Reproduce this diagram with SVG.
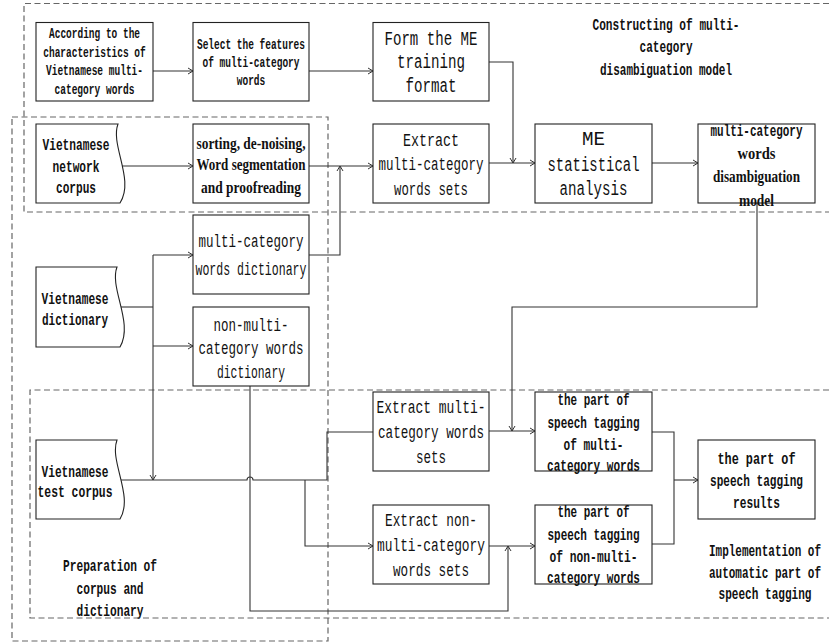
<svg xmlns="http://www.w3.org/2000/svg" width="829" height="643" viewBox="0 0 829 643">
<style>
.bg{fill:#fff}
.box{fill:#fff;stroke:#222;stroke-width:1.1}
.region{fill:none;stroke:#666;stroke-width:1.2;stroke-dasharray:6 3.5}
.con{fill:none;stroke:#333;stroke-width:1.1}
.arr{marker-end:url(#ah)}
text{text-anchor:middle;fill:#111}
.t1{font-family:"Liberation Mono",monospace;font-weight:bold;font-size:14px}
.t2{font-family:"Liberation Mono",monospace;font-weight:bold;font-size:16px}
.t3{font-family:"Liberation Mono",monospace;font-size:19px}
.t4{font-family:"Liberation Mono",monospace;font-size:20px}
.ts{font-family:"Liberation Serif",serif;font-weight:bold;font-size:16px}
</style>
<defs>
<marker id="ah" markerUnits="userSpaceOnUse" markerWidth="8" markerHeight="8" refX="6" refY="4" orient="auto">
<path d="M1,1 L6,4 L1,7" fill="none" stroke="#333" stroke-width="1"/>
</marker>
</defs>
<rect class="bg" x="0" y="0" width="829" height="643"/>

<g id="region-constructing">
<path class="region" d="M829,3.5 H24 V212 H829"/>
<text class="t2" x="666" y="30" textLength="147" lengthAdjust="spacingAndGlyphs">Constructing of multi-</text>
<text class="t2" x="666" y="52" textLength="53" lengthAdjust="spacingAndGlyphs">category</text>
<text class="t2" x="666" y="75" textLength="132" lengthAdjust="spacingAndGlyphs">disambiguation model</text>
</g>
<g id="region-preparation">
<rect class="region" x="12" y="117" width="316" height="524"/>
<text class="t2" x="110" y="571" textLength="94" lengthAdjust="spacingAndGlyphs">Preparation of</text>
<text class="t2" x="110" y="594" textLength="67" lengthAdjust="spacingAndGlyphs">corpus and</text>
<text class="t2" x="110" y="616" textLength="67" lengthAdjust="spacingAndGlyphs">dictionary</text>
</g>
<g id="region-implementation">
<path class="region" d="M829,390 H30 V618 H829"/>
<text class="t2" x="765" y="556" textLength="112" lengthAdjust="spacingAndGlyphs">Implementation of</text>
<text class="t2" x="765" y="578" textLength="112" lengthAdjust="spacingAndGlyphs">automatic part of</text>
<text class="t2" x="765" y="599" textLength="93" lengthAdjust="spacingAndGlyphs">speech tagging</text>
</g>

<g id="connectors">
<path class="con arr" d="M153,71 H193"/>
<path class="con arr" d="M309,71 H373"/>
<path class="con arr" d="M489,62 H513 V163"/>
<path class="con arr" d="M489,163 H535"/>
<path class="con arr" d="M122,166 H193"/>
<path class="con arr" d="M309,166 H373"/>
<path class="con arr" d="M309,255 H340 V166"/>
<path class="con arr" d="M652,163 H698"/>
<path class="con arr" d="M757,203 V307 H512 V431"/>
<path class="con arr" d="M489,431 H535"/>
<path class="con" d="M121,307 H153"/>
<path class="con arr" d="M153,255 V480"/>
<path class="con arr" d="M153,255 H193"/>
<path class="con arr" d="M153,346 H193"/>
<path class="con" d="M121,480 H247 A3,3 0 0 1 253,480 H327 V432 H373"/>
<path class="con arr" d="M305,480 V546 H373"/>
<path class="con arr" d="M250,386 V611 H508 V546"/>
<path class="con arr" d="M489,546 H535"/>
<path class="con" d="M652,432 H674 V544 H652"/>
<path class="con arr" d="M674,480 H698"/>
</g>

<g id="n-characteristics">
<rect class="box" x="36" y="22.5" width="117" height="78.5"/>
<text class="t1" x="94.5" y="38" textLength="91" lengthAdjust="spacingAndGlyphs">According to the</text>
<text class="t1" x="94.5" y="56.5" textLength="102.5" lengthAdjust="spacingAndGlyphs">characteristics of</text>
<text class="t1" x="94.5" y="75" textLength="97" lengthAdjust="spacingAndGlyphs">Vietnamese multi-</text>
<text class="t1" x="94.5" y="94" textLength="80" lengthAdjust="spacingAndGlyphs">category words</text>
</g>
<g id="n-select-features">
<rect class="box" x="193" y="22.5" width="116" height="78.5"/>
<text class="t1" x="251" y="48.5" textLength="108" lengthAdjust="spacingAndGlyphs">Select the features</text>
<text class="t1" x="251" y="67" textLength="97" lengthAdjust="spacingAndGlyphs">of multi-category</text>
<text class="t1" x="251" y="85" textLength="28.5" lengthAdjust="spacingAndGlyphs">words</text>
</g>
<g id="n-me-format">
<rect class="box" x="373" y="22.5" width="116" height="78.5"/>
<text class="t4" x="431" y="45" textLength="93" lengthAdjust="spacingAndGlyphs">Form the ME</text>
<text class="t4" x="431" y="68" textLength="68" lengthAdjust="spacingAndGlyphs">training</text>
<text class="t4" x="431" y="92" textLength="51" lengthAdjust="spacingAndGlyphs">format</text>
</g>
<g id="n-network-corpus">
<path class="box" d="M36,124 H118 C110,145 135,180 120,203 H36 Z"/>
<text class="t2" x="76" y="150" textLength="67" lengthAdjust="spacingAndGlyphs">Vietnamese</text>
<text class="t2" x="76" y="172" textLength="47" lengthAdjust="spacingAndGlyphs">network</text>
<text class="t2" x="76" y="193" textLength="40" lengthAdjust="spacingAndGlyphs">corpus</text>
</g>
<g id="n-sorting">
<rect class="box" x="193" y="124" width="116" height="79"/>
<text class="ts" x="251" y="149" textLength="109" lengthAdjust="spacingAndGlyphs">sorting, de-noising,</text>
<text class="ts" x="251" y="170" textLength="109" lengthAdjust="spacingAndGlyphs">Word segmentation</text>
<text class="ts" x="251" y="193" textLength="100" lengthAdjust="spacingAndGlyphs">and proofreading</text>
</g>
<g id="n-extract-sets">
<rect class="box" x="373" y="124" width="116" height="79"/>
<text class="t3" x="431" y="146" textLength="56" lengthAdjust="spacingAndGlyphs">Extract</text>
<text class="t3" x="431" y="170" textLength="105" lengthAdjust="spacingAndGlyphs">multi-category</text>
<text class="t3" x="431" y="195" textLength="74" lengthAdjust="spacingAndGlyphs">words sets</text>
</g>
<g id="n-me-analysis">
<rect class="box" x="535" y="124" width="117" height="79"/>
<text class="t4" x="593.5" y="145" textLength="23" lengthAdjust="spacingAndGlyphs">ME</text>
<text class="t4" x="593.5" y="171" textLength="92" lengthAdjust="spacingAndGlyphs">statistical</text>
<text class="t4" x="593.5" y="195" textLength="68" lengthAdjust="spacingAndGlyphs">analysis</text>
</g>
<g id="n-model">
<rect class="box" x="698" y="124" width="117" height="79"/>
<text class="t2" x="756.5" y="136" textLength="92" lengthAdjust="spacingAndGlyphs">multi-category</text>
<text class="ts" x="756.5" y="159" textLength="38" lengthAdjust="spacingAndGlyphs">words</text>
<text class="ts" x="756.5" y="182" textLength="87" lengthAdjust="spacingAndGlyphs">disambiguation</text>
<text class="ts" x="756.5" y="206" textLength="35" lengthAdjust="spacingAndGlyphs">model</text>
</g>
<g id="n-multi-dict">
<rect class="box" x="193" y="215" width="116" height="79"/>
<text class="t3" x="251" y="247" textLength="105" lengthAdjust="spacingAndGlyphs">multi-category</text>
<text class="t3" x="251" y="275" textLength="111" lengthAdjust="spacingAndGlyphs">words dictionary</text>
</g>
<g id="n-viet-dict">
<path class="box" d="M36,267 H117 C109,288 134,323 120,347 H36 Z"/>
<text class="t2" x="75" y="304" textLength="67" lengthAdjust="spacingAndGlyphs">Vietnamese</text>
<text class="t2" x="75" y="325" textLength="66" lengthAdjust="spacingAndGlyphs">dictionary</text>
</g>
<g id="n-non-multi-dict">
<rect class="box" x="193" y="307" width="116" height="79"/>
<text class="t3" x="251" y="331" textLength="75" lengthAdjust="spacingAndGlyphs">non-multi-</text>
<text class="t3" x="251" y="354" textLength="105" lengthAdjust="spacingAndGlyphs">category words</text>
<text class="t3" x="251" y="378" textLength="68" lengthAdjust="spacingAndGlyphs">dictionary</text>
</g>
<g id="n-test-corpus">
<path class="box" d="M36,440 H117 C109,461 134,496 120,519 H36 Z"/>
<text class="t2" x="75" y="477" textLength="67" lengthAdjust="spacingAndGlyphs">Vietnamese</text>
<text class="t2" x="75" y="497" textLength="75" lengthAdjust="spacingAndGlyphs">test corpus</text>
</g>
<g id="n-extract-multi">
<rect class="box" x="373" y="392" width="116" height="79"/>
<text class="t3" x="431" y="413" textLength="109" lengthAdjust="spacingAndGlyphs">Extract multi-</text>
<text class="t3" x="431" y="438" textLength="106" lengthAdjust="spacingAndGlyphs">category words</text>
<text class="t3" x="431" y="463" textLength="30" lengthAdjust="spacingAndGlyphs">sets</text>
</g>
<g id="n-extract-non-multi">
<rect class="box" x="373" y="505" width="116" height="79"/>
<text class="t3" x="431" y="526" textLength="92" lengthAdjust="spacingAndGlyphs">Extract non-</text>
<text class="t3" x="431" y="551" textLength="108" lengthAdjust="spacingAndGlyphs">multi-category</text>
<text class="t3" x="431" y="576" textLength="76" lengthAdjust="spacingAndGlyphs">words sets</text>
</g>
<g id="n-tag-multi">
<rect class="box" x="535" y="392" width="117" height="79"/>
<text class="t2" x="593.5" y="405" textLength="72" lengthAdjust="spacingAndGlyphs">the part of</text>
<text class="t2" x="593.5" y="428" textLength="92" lengthAdjust="spacingAndGlyphs">speech tagging</text>
<text class="t2" x="593.5" y="450" textLength="60" lengthAdjust="spacingAndGlyphs">of multi-</text>
<text class="t2" x="593.5" y="471" textLength="93" lengthAdjust="spacingAndGlyphs">category words</text>
</g>
<g id="n-tag-non-multi">
<rect class="box" x="535" y="505" width="117" height="79"/>
<text class="t2" x="593.5" y="517" textLength="72" lengthAdjust="spacingAndGlyphs">the part of</text>
<text class="t2" x="593.5" y="540" textLength="92" lengthAdjust="spacingAndGlyphs">speech tagging</text>
<text class="t2" x="593.5" y="562" textLength="88" lengthAdjust="spacingAndGlyphs">of non-multi-</text>
<text class="t2" x="593.5" y="583" textLength="93" lengthAdjust="spacingAndGlyphs">category words</text>
</g>
<g id="n-results">
<rect class="box" x="698" y="440" width="117" height="79"/>
<text class="t2" x="756.5" y="464" textLength="78" lengthAdjust="spacingAndGlyphs">the part of</text>
<text class="t2" x="756.5" y="486" textLength="93" lengthAdjust="spacingAndGlyphs">speech tagging</text>
<text class="t2" x="756.5" y="508" textLength="47" lengthAdjust="spacingAndGlyphs">results</text>
</g>
</svg>
